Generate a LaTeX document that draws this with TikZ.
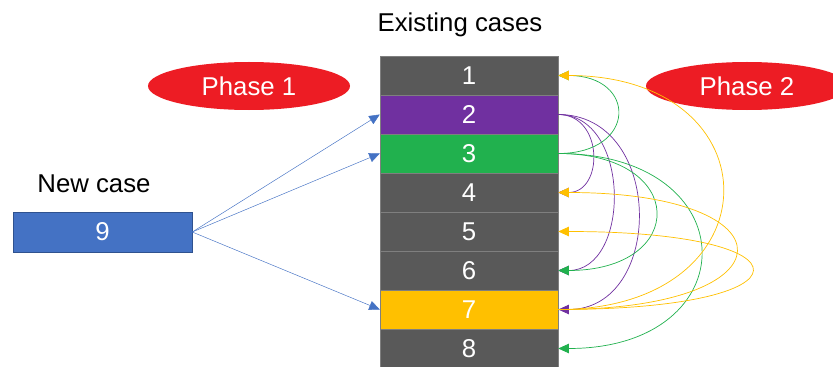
\documentclass[tikz,border=0pt]{standalone}
\usepackage{fontspec}
\setmainfont{Liberation Sans}
\usetikzlibrary{shapes.geometric,arrows.meta}
\definecolor{casegray}{HTML}{595959}
\definecolor{rowline}{HTML}{7F7F7F}
\definecolor{casepurple}{HTML}{7030A0}
\definecolor{casegreen}{HTML}{21B14E}
\definecolor{caseyellow}{HTML}{FFC000}
\definecolor{caseblue}{HTML}{4472C4}
\definecolor{caseblueline}{HTML}{2F528F}
\definecolor{phasered}{HTML}{ED1C24}
\begin{document}
\begin{tikzpicture}[x=0.03cm, y=-0.03cm, font=\fontsize{22}{26}\selectfont]
\useasboundingbox (0,0) rectangle (833,367);
\node[anchor=base] (existing) at (460,32) {Existing cases};
\node[anchor=base] (newlabel) at (94,192) {New case};
\node[shape=ellipse, fill=phasered, text=white, inner sep=0, minimum width=6.06cm, minimum height=1.44cm] (p1) at (249,86) {Phase 1};
\node[shape=ellipse, fill=phasered, text=white, inner sep=0, minimum width=6.06cm, minimum height=1.44cm] (p2) at (747,86) {Phase 2};
\node[shape=rectangle, fill=caseblue, draw=caseblueline, text=white, inner sep=0, minimum width=5.37cm, minimum height=1.2cm] (new) at (102.5,232) {9};
\node[shape=rectangle, fill=casegray, draw=rowline, text=white, inner sep=0, minimum width=5.34cm, minimum height=1.17cm] (c1) at (469,75.5) {1};
\node[shape=rectangle, fill=casepurple, draw=rowline, text=white, inner sep=0, minimum width=5.34cm, minimum height=1.17cm] (c2) at (469,114.5) {2};
\node[shape=rectangle, fill=casegreen, draw=rowline, text=white, inner sep=0, minimum width=5.34cm, minimum height=1.17cm] (c3) at (469,153.5) {3};
\node[shape=rectangle, fill=casegray, draw=rowline, text=white, inner sep=0, minimum width=5.34cm, minimum height=1.17cm] (c4) at (469,192.5) {4};
\node[shape=rectangle, fill=casegray, draw=rowline, text=white, inner sep=0, minimum width=5.34cm, minimum height=1.17cm] (c5) at (469,231.5) {5};
\node[shape=rectangle, fill=casegray, draw=rowline, text=white, inner sep=0, minimum width=5.34cm, minimum height=1.17cm] (c6) at (469,270.5) {6};
\node[shape=rectangle, fill=caseyellow, draw=rowline, text=white, inner sep=0, minimum width=5.34cm, minimum height=1.17cm] (c7) at (469,309.5) {7};
\node[shape=rectangle, fill=casegray, draw=rowline, text=white, inner sep=0, minimum width=5.34cm, minimum height=1.17cm] (c8) at (469,348.5) {8};
\path [-{Triangle[length=9pt,width=8pt]}, thin, color=caseblue] (new.east) edge (c2.west);
\path [-{Triangle[length=9pt,width=8pt]}, thin, color=caseblue] (new.east) edge (c3.west);
\path [-{Triangle[length=9pt,width=8pt]}, thin, color=caseblue] (new.east) edge (c7.west);
\path [-{Triangle[length=9pt,width=8pt]}, line width=0.6pt, color=casepurple] (c2.east) edge[out=0, in=0, looseness=1.5] (c4.east);
\path [-{Triangle[length=9pt,width=8pt]}, line width=0.6pt, color=casepurple] (c2.east) edge[out=0, in=0, looseness=1.2] (c6.east);
\path [-{Triangle[length=9pt,width=8pt]}, line width=0.6pt, color=casepurple] (c2.east) edge[out=0, in=0, looseness=1.4] (c7.east);
\path [-{Triangle[length=9pt,width=8pt]}, line width=0.6pt, color=casegreen] (c3.east) edge[out=0, in=0, looseness=2.6] (c1.east);
\path [-{Triangle[length=9pt,width=8pt]}, line width=0.6pt, color=casegreen] (c3.east) edge[out=0, in=0, looseness=2.85] (c6.east);
\path [-{Triangle[length=9pt,width=8pt]}, line width=0.6pt, color=casegreen] (c3.east) edge[out=0, in=0, looseness=2.5] (c8.east);
\path [-{Triangle[length=9pt,width=8pt]}, line width=0.6pt, color=caseyellow] (c7.east) edge[out=0, in=0, looseness=2.4] (c1.east);
\path [-{Triangle[length=9pt,width=8pt]}, line width=0.6pt, color=caseyellow] (c7.east) edge[out=0, in=0, looseness=5.2] (c4.east);
\path [-{Triangle[length=9pt,width=8pt]}, line width=0.6pt, color=caseyellow] (c7.east) edge[out=0, in=0, looseness=8.5] (c5.east);
\end{tikzpicture}
\end{document}
